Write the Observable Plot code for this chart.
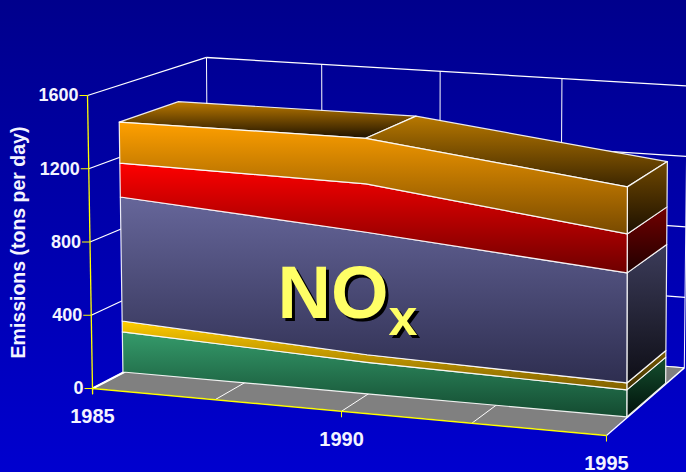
<!DOCTYPE html>
<html>
<head>
<meta charset="utf-8">
<script src="https://cdn.jsdelivr.net/npm/d3@7"></script>
<script src="https://cdn.jsdelivr.net/npm/@observablehq/plot@0.6"></script>
<style>
  html, body { margin: 0; padding: 0; width: 686px; height: 472px; overflow: hidden;
    background: linear-gradient(#00008c, #0000cf); }
  svg { display: block; }
</style>
</head>
<body>
<div id="chart"></div>
<script>
// NOx emissions by source, tons per day
const years = [1985, 1990, 1995];
const green = [223, 172, 145];
const gold = [61, 41, 37];
const slate = [690, 669, 590];
const red = [189, 264, 209];
const orange = [228, 249, 252];

const valueTicks = [0, 400, 800, 1200, 1600];
const yearLabels = [1985, 1990, 1995];
const gridYears = [1985, 1987.5, 1990, 1992.5, 1995];
const slab = [0.25, 0.75]; // depth occupied by the stacked slab

// Camera: a perspective floor plus a height and lean that vary over it
function project(year, value, depth) {
  const t = (year - 1985) / 10, v = value / 1600, d = depth;
  const w = 1 - 0.06 * t + 0.09 * d;
  const fx = (92 + 477.6 * t + 134.7 * d) / w;
  const fy = (388 + 20.9 * t - 30.5 * d) / w;
  const rise = 293 + 11 * t - 22 * d;
  const lean = -5 + 5 * t + 3 * d;
  return [fx + lean * v, fy - rise * v];
}
const px = (year, value, depth) => project(year, value, depth)[0];
const py = (year, value, depth) => project(year, value, depth)[1];

// Layer stack with cumulative lower and upper bounds
const layers = [
  {name: "green", values: green},
  {name: "gold", values: gold},
  {name: "slate", values: slate},
  {name: "red", values: red},
  {name: "orange", values: orange}
];
let running = years.map(() => 0);
for (const layer of layers) {
  layer.lower = running;
  layer.upper = running.map((r, i) => r + layer.values[i]);
  running = layer.upper;
}
const grand = running;

// Shading ramps, top to bottom of each face
const ramps = {
  green: ["#359b6b", "#134a30"],
  gold: ["#ffcc00", "#7f5f00"],
  slate: ["#66669a", "#2e2e50"],
  red: ["#ff0000", "#6e0000"],
  orange: ["#ffa000", "#784a00"],
  greenSide: ["#15502f", "#00100a"],
  goldSide: ["#7a5c00", "#3d2d00"],
  slateSide: ["#3c3c5a", "#0e0e16"],
  redSide: ["#720000", "#200000"],
  orangeSide: ["#704800", "#1c1000"],
  lidA: ["#bd7a00", "#1e1200"],
  lidB: ["#b87800", "#3c2600"]
};
const defs = () => {
  const root = d3.create("svg:defs");
  for (const [id, [a, b]] of Object.entries(ramps)) {
    const g = root.append("linearGradient").attr("id", id)
      .attr("x1", 0).attr("y1", 0).attr("x2", 0).attr("y2", 1);
    g.append("stop").attr("offset", "0%").attr("stop-color", a);
    g.append("stop").attr("offset", "100%").attr("stop-color", b);
  }
  return root.node();
};

// A quad or strip between two polylines, each row holding both ends
const face = (rows, fill) => Plot.area(rows, {
  x1: r => r.a[0], y1: r => r.a[1], x2: r => r.b[0], y2: r => r.b[1],
  fill, stroke: "#fff", strokeWidth: 1.2, strokeOpacity: 0.9
});
const edge = (rows, stroke, strokeWidth) => Plot.link(rows, {
  x1: r => r.a[0], y1: r => r.a[1], x2: r => r.b[0], y2: r => r.b[1],
  stroke, strokeWidth
});

const [front, back] = slab;
const frontFaces = layers.map(l => face(years.map((y, i) => ({
  a: project(y, l.lower[i], front), b: project(y, l.upper[i], front)
})), `url(#${l.name})`));
const sideFaces = layers.map(l => face(slab.map(d => ({
  a: project(1995, l.lower[2], d), b: project(1995, l.upper[2], d)
})), `url(#${l.name}Side)`));
const lidFaces = [0, 1].map(k => face([k, k + 1].map(i => ({
  a: project(years[i], grand[i], front), b: project(years[i], grand[i], back)
})), k === 0 ? "url(#lidA)" : "url(#lidB)"));

const floor = Plot.area([1985, 1995].map(y => ({a: project(y, 0, 0), b: project(y, 0, 1)})), {
  x1: r => r.a[0], y1: r => r.a[1], x2: r => r.b[0], y2: r => r.b[1], fill: "#808080"
});

const label = {fontFamily: "Liberation Sans", fontWeight: "bold", fill: "#f4f4ff"};
const headline = {fontFamily: "Liberation Sans", fontWeight: "bold", textAnchor: "start", lineAnchor: "bottom",
  fill: "#ffff66", imageFilter: "drop-shadow(3px 3px 0 #000)"};

const chart = Plot.plot({
  width: 686,
  height: 472,
  margin: 0,
  x: {type: "identity", axis: null},
  y: {type: "identity", axis: null},
  style: {background: "transparent"},
  marks: [
    defs,
    // back wall
    edge(gridYears.map(y => ({a: project(y, 0, 1), b: project(y, 1600, 1)})), "#fff", 1),
    edge(valueTicks.map(v => ({a: project(1985, v, 1), b: project(1995, v, 1)})), "#fff", 1.3),
    // floor
    floor,
    edge(gridYears.slice(1, -1).map(y => ({a: project(y, 0, 0), b: project(y, 0, 1)})), "#fff", 1),
    edge([{a: project(1985, 0, 1), b: project(1995, 0, 1)}], "#fff", 1),
    // left wall
    edge(valueTicks.map(v => ({a: project(1985, v, 0), b: project(1985, v, 1)})), "#fff", 1.3),
    edge([{a: project(1985, 0, 0), b: project(1985, 0, 1)}], "#fff", 2),
    edge([{a: project(1995, 0, 0), b: project(1995, 0, 1)}], "#fff", 1.5),
    // axes in yellow
    edge([{a: project(1985, -30, 0), b: project(1985, 1600, 0)}], "#ffff00", 1.3),
    edge([{a: project(1985, 0, 0), b: project(1995, 0, 0)}], "#ffff00", 1.5),
    Plot.link(yearLabels, {x1: y => px(y, 0, 0), x2: y => px(y, 0, 0), y1: y => py(y, 0, 0), y2: y => py(y, 0, 0) + 6, stroke: "#ffff00"}),
    Plot.link(valueTicks, {y1: v => py(1985, v, 0), y2: v => py(1985, v, 0), x1: v => px(1985, v, 0) - 8, x2: v => px(1985, v, 0), stroke: "#ffff00"}),
    // the stacked slab
    ...lidFaces,
    ...sideFaces,
    ...frontFaces,
    // axis text
    Plot.text(valueTicks, {...label, x: v => px(1985, v, 0), y: v => py(1985, v, 0), text: String,
      textAnchor: "end", dx: -9, fontSize: 18}),
    Plot.text(yearLabels, {...label, x: y => px(y, 0, 0), y: y => py(y, 0, 0), text: String,
      dy: 28, fontSize: 20}),
    Plot.text(["Emissions (tons per day)"], {...label, x: () => 18, y: () => 242, rotate: -90, fontSize: 19.5}),
    // series caption
    Plot.text(["NO"], {...headline, x: () => px(1988.2, 373, front), y: () => py(1988.2, 373, front), fontSize: 74}),
    Plot.text(["x"], {...headline, x: () => px(1990.42, 333, front), y: () => py(1990.42, 333, front), fontSize: 52})
  ]
});
document.getElementById("chart").append(chart);
</script>
</body>
</html>
